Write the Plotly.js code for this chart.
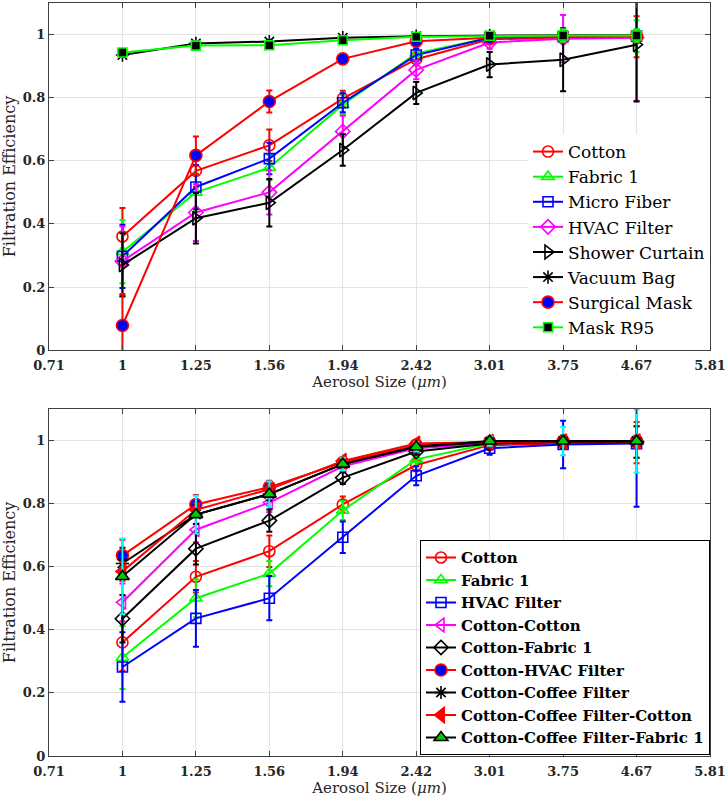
<!DOCTYPE html>
<html>
<head>
<meta charset="utf-8">
<script src="https://cdn.plot.ly/plotly-3.0.1.min.js"></script>
<style>
  body { margin: 0; background: #fff; }
  #chart { width: 725px; height: 802px; }
</style>
</head>
<body>
<div id="chart"></div>
<script>
// --- Datos ---
const sizeTicks = ['0.71', '1', '1.25', '1.56', '1.94', '2.42', '3.01', '3.75', '4.67', '5.81'];
const sizes = ['1', '1.25', '1.56', '1.94', '2.42', '3.01', '3.75', '4.67'];
const yTicks = [0, 0.2, 0.4, 0.6, 0.8, 1];

// panel superior
const cotton = [0.36, 0.568, 0.649, 0.797, 0.922, 0.985, 0.99, 0.993];
const cottonErr = [0.09, 0.05, 0.05, 0.025, 0.02, 0.01, 0.015, 0.065];
const fabric1 = [0.312, 0.50, 0.578, 0.778, 0.94, 0.99, 0.995, 0.995];
const fabric1Err = [0.1, 0.06, 0.04, 0.03, 0.02, 0.01, 0.02, 0.05];
const microFiber = [0.297, 0.517, 0.607, 0.784, 0.935, 0.99, 0.993, 0.995];
const microFiberErr = [0.1, 0.07, 0.05, 0.03, 0.02, 0.01, 0.02, 0.02];
const hvac = [0.282, 0.436, 0.50, 0.693, 0.888, 0.975, 0.987, 0.99];
const hvacErr = [0.11, 0.09, 0.07, 0.05, 0.03, 0.02, 0.075, 0.2];
const shower = [0.27, 0.418, 0.467, 0.634, 0.815, 0.905, 0.92, 0.968];
const showerErr = [0.1, 0.08, 0.075, 0.05, 0.035, 0.04, 0.1, 0.18];
const vacuum = [0.935, 0.972, 0.978, 0.99, 0.995, 0.997, 0.998, 0.998];
const vacuumErr = [0.005, 0.005, 0.005, 0.005, 0.003, 0.003, 0.003, 0.003];
const surgical = [0.078, 0.617, 0.788, 0.923, 0.979, 0.99, 0.993, 0.995];
const surgicalErr = [0.1, 0.06, 0.035, 0.01, 0.01, 0.005, 0.01, 0.01];
const r95 = [0.943, 0.965, 0.966, 0.982, 0.993, 0.996, 0.997, 0.997];
const r95Err = [0.006, 0.005, 0.005, 0.005, 0.005, 0.005, 0.02, 0.02];

// panel inferior
const cotCot = [0.487, 0.717, 0.803, 0.918, 0.975, 0.99, 0.995, 0.995];
const cotCotErr = [0.06, 0.04, 0.03, 0.02, 0.01, 0.01, 0.02, 0.02];
const cotFab = [0.435, 0.657, 0.746, 0.882, 0.965, 0.99, 0.995, 0.995];
const cotFabErr = [0.075, 0.05, 0.035, 0.02, 0.01, 0.01, 0.02, 0.05];
const cotHvac = [0.635, 0.797, 0.852, 0.93, 0.985, 0.995, 0.997, 0.997];
const cotHvacErr = [0.05, 0.03, 0.02, 0.01, 0.005, 0.005, 0.005, 0.005];
const cotCoffee = [0.61, 0.765, 0.83, 0.925, 0.98, 0.995, 0.997, 0.997];
const cotCoffeeErr = [0.05, 0.03, 0.02, 0.01, 0.005, 0.005, 0.005, 0.005];
const cotCoffeeCot = [0.585, 0.78, 0.845, 0.935, 0.99, 0.995, 0.997, 0.997];
const cotCoffeeCotErr = [0.03, 0.02, 0.015, 0.01, 0.005, 0.005, 0.005, 0.005];
const cotCoffeeFab = [0.569, 0.765, 0.83, 0.925, 0.98, 0.998, 0.998, 0.998];
const cotCoffeeFabErr = [0.12, 0.06, 0.04, 0.02, 0.015, 0.015, 0.045, 0.1];

const xIdx = sizes.map(s => sizeTicks.indexOf(s));
const serif = 'DejaVu Serif';

function serie(name, y, err, opts, axis, legend) {
    return {
        x: xIdx,
        y: y,
        name: name,
        type: 'scatter',
        mode: 'lines+markers',
        xaxis: axis === 2 ? 'x2' : 'x',
        yaxis: axis === 2 ? 'y2' : 'y',
        legend: legend,
        line: {color: opts.line, width: 2},
        marker: {
            symbol: opts.symbol,
            size: opts.size || 11,
            color: opts.fill || opts.line,
            line: {color: opts.edge || opts.line, width: 1.6}
        },
        error_y: {
            type: 'data', array: err, visible: true,
            color: opts.err || opts.line, thickness: 2, width: 3
        }
    };
}

const data = [
    serie('Cotton', cotton, cottonErr, {line: '#ff0000', symbol: 'circle-open'}, 1, 'legend'),
    serie('Fabric 1', fabric1, fabric1Err, {line: '#00ff00', symbol: 'triangle-up-open'}, 1, 'legend'),
    serie('Micro Fiber', microFiber, microFiberErr, {line: '#0000ff', symbol: 'square-open', size: 10}, 1, 'legend'),
    serie('HVAC Filter', hvac, hvacErr, {line: '#ff00ff', symbol: 'diamond-open'}, 1, 'legend'),
    serie('Shower Curtain', shower, showerErr, {line: '#000000', symbol: 'triangle-right-open', size: 12}, 1, 'legend'),
    serie('Vacuum Bag', vacuum, vacuumErr, {line: '#000000', symbol: 'asterisk-open', size: 11}, 1, 'legend'),
    serie('Surgical Mask', surgical, surgicalErr, {line: '#ff0000', symbol: 'circle', fill: '#0000ff', edge: '#ff0000', size: 12}, 1, 'legend'),
    serie('Mask R95', r95, r95Err, {line: '#00ff00', symbol: 'square', fill: '#000000', edge: '#00ff00', size: 9}, 1, 'legend'),

    serie('Cotton', cotton, cottonErr, {line: '#ff0000', symbol: 'circle-open'}, 2, 'legend2'),
    serie('Fabric 1', fabric1, fabric1Err, {line: '#00ff00', symbol: 'triangle-up-open'}, 2, 'legend2'),
    serie('HVAC Filter', hvac, hvacErr, {line: '#0000ff', symbol: 'square-open', size: 10}, 2, 'legend2'),
    serie('Cotton-Cotton', cotCot, cotCotErr, {line: '#ff00ff', symbol: 'triangle-left-open', size: 12}, 2, 'legend2'),
    serie('Cotton-Fabric 1', cotFab, cotFabErr, {line: '#000000', symbol: 'diamond-open'}, 2, 'legend2'),
    serie('Cotton-HVAC Filter', cotHvac, cotHvacErr, {line: '#ff0000', symbol: 'circle', fill: '#0000ff', edge: '#ff0000', size: 12}, 2, 'legend2'),
    serie('Cotton-Coffee Filter', cotCoffee, cotCoffeeErr, {line: '#000000', symbol: 'asterisk-open', size: 11}, 2, 'legend2'),
    serie('Cotton-Coffee Filter-Cotton', cotCoffeeCot, cotCoffeeCotErr, {line: '#ff0000', symbol: 'triangle-left', size: 13}, 2, 'legend2'),
    serie('Cotton-Coffee Filter-Fabric 1', cotCoffeeFab, cotCoffeeFabErr, {line: '#000000', symbol: 'triangle-up', fill: '#00cc00', edge: '#000000', size: 12, err: '#00ffff'}, 2, 'legend2')
];

function ejeX(anchor) {
    return {
        anchor: anchor,
        range: [0, sizeTicks.length - 1],
        tickvals: sizeTicks.map((_, i) => i),
        ticktext: sizeTicks,
        tickfont: {family: serif, size: 13, color: '#262626', weight: 'bold'},
        ticklabeloverflow: 'allow',
        ticklabelstandoff: 3,
        showgrid: true, gridcolor: '#e3e3e3',
        zeroline: false,
        showline: true, linecolor: '#404040', linewidth: 1, mirror: 'ticks',
        ticks: 'inside', ticklen: 5, tickcolor: '#404040',
        title: {text: 'Aerosol Size (<i>μm</i>)', font: {family: serif, size: 15, color: '#262626'}, standoff: 0}
    };
}
function ejeY(anchor, domain) {
    return {
        anchor: anchor,
        domain: domain,
        range: [0, 1.1],
        tickvals: yTicks,
        ticktext: yTicks.map(String),
        tickfont: {family: serif, size: 13, color: '#262626', weight: 'bold'},
        showgrid: true, gridcolor: '#e3e3e3',
        zeroline: false,
        showline: true, linecolor: '#404040', linewidth: 1, mirror: 'ticks',
        ticks: 'inside', ticklen: 5, tickcolor: '#404040',
        title: {text: 'Filtration Efficiency', font: {family: serif, size: 16, color: '#262626'}, standoff: 8}
    };
}

const layout = {
    width: 725,
    height: 802,
    margin: {l: 49, r: 15, t: 3, b: 46},
    font: {family: serif},
    paper_bgcolor: '#ffffff',
    plot_bgcolor: '#ffffff',
    showlegend: true,
    xaxis: ejeX('y'),
    yaxis: ejeY('x', [0.539, 1]),
    xaxis2: ejeX('y2'),
    yaxis2: ejeY('x2', [0, 0.461]),
    legend: {
        x: 1, xanchor: 'right', y: 0.826, yanchor: 'top',
        bgcolor: '#ffffff', borderwidth: 0,
        font: {family: serif, size: 17, color: '#000'},
        itemwidth: 30, tracegroupgap: 0
    },
    legend2: {
        x: 1, xanchor: 'right', y: 0.001, yanchor: 'bottom',
        bgcolor: '#ffffff', bordercolor: '#000000', borderwidth: 1,
        font: {family: serif, size: 15, color: '#000', weight: 'bold'},
        itemwidth: 30, tracegroupgap: 0
    }
};

Plotly.newPlot('chart', data, layout, {displayModeBar: false, responsive: false});
</script>
</body>
</html>
